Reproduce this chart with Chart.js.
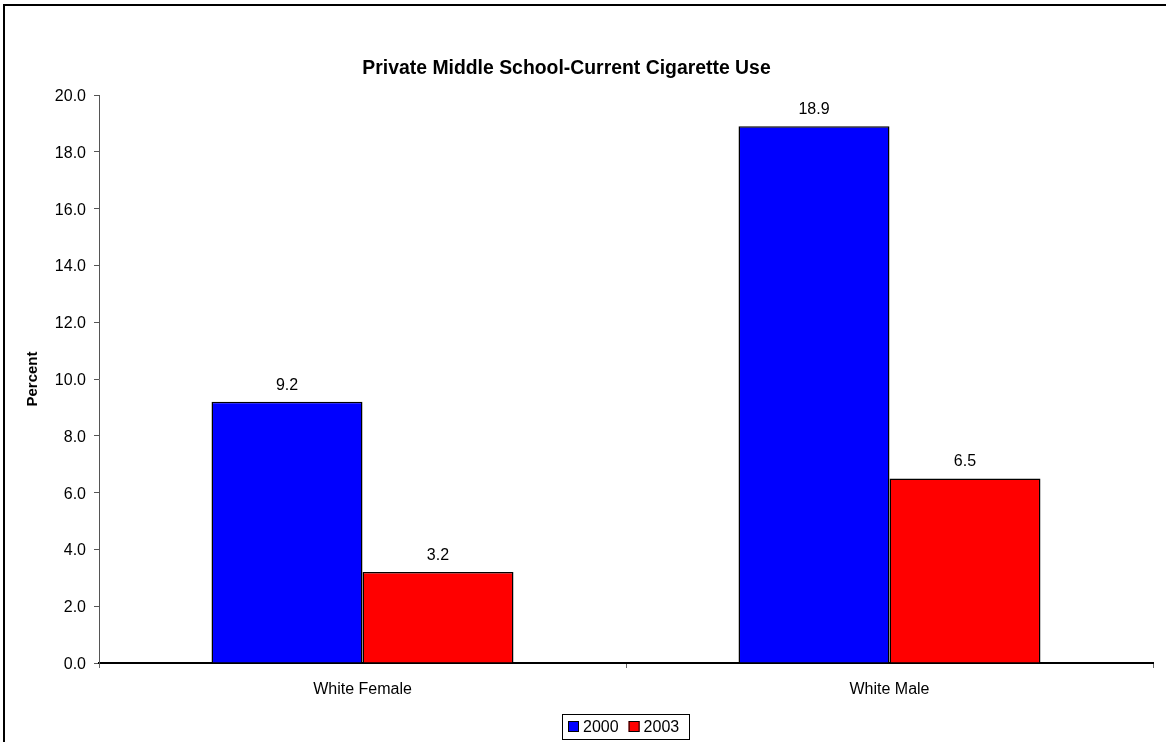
<!DOCTYPE html>
<html>
<head>
<meta charset="utf-8">
<script src="https://cdn.jsdelivr.net/npm/chart.js@4/dist/chart.umd.min.js"></script>
<style>
html,body{margin:0;padding:0;background:#fff;}
#wrap{width:1166px;height:742px;position:relative;}
canvas{display:block;}
</style>
</head>
<body>
<div id="wrap"><canvas id="c" width="1166" height="742"></canvas></div>
<script>
const chartTitle = 'Private Middle School-Current Cigarette Use';
const categories = ['White Female', 'White Male'];
const seriesLabels = ['2000', '2003'];
const values2000 = [9.2, 18.9];
const values2003 = [3.2, 6.5];
const seriesColors = ['#0000FF', '#FF0000'];
const yTitle = 'Percent';
const FONT = '"Liberation Sans", Arial, sans-serif';

const extras = {
  id: 'extras',
  beforeDraw(chart) {
    const ctx = chart.ctx;
    ctx.save();
    ctx.fillStyle = '#fff';
    ctx.fillRect(0, 0, chart.width, chart.height);
    ctx.restore();
  },
  afterDatasetsDraw(chart) {
    const ctx = chart.ctx;
    ctx.save();
    ctx.font = '16px ' + FONT;
    ctx.fillStyle = '#000';
    ctx.textAlign = 'center';
    ctx.textBaseline = 'middle';
    chart.data.datasets.forEach((ds, i) => {
      chart.getDatasetMeta(i).data.forEach((bar, j) => {
        ctx.fillText(ds.data[j].toFixed(1), bar.x, bar.y - 16.5);
      });
    });
    ctx.restore();
  },
  afterDraw(chart) {
    const ctx = chart.ctx;
    ctx.save();
    // title
    ctx.font = 'bold 19.4px ' + FONT;
    ctx.fillStyle = '#000';
    ctx.textAlign = 'center';
    ctx.textBaseline = 'middle';
    ctx.fillText(chartTitle, 566.5, 69);
    // outer frame
    ctx.strokeStyle = '#000';
    ctx.lineWidth = 2;
    ctx.strokeRect(4, 5, chart.width + 10, chart.height + 10);
    // legend
    const ca = chart.chartArea;
    ctx.font = '16px ' + FONT;
    const items = chart.data.datasets.map(d => ({label: d.label, color: d.backgroundColor, w: ctx.measureText(d.label).width}));
    let total = 6 + 10;
    items.forEach((it, i) => { total += 11 + 4 + it.w + (i < items.length - 1 ? 10 : 0); });
    const cx = (ca.left + ca.right) / 2;
    const lx = Math.round(cx - total / 2);
    const ly = 714;
    ctx.lineWidth = 1;
    ctx.strokeStyle = '#000';
    ctx.strokeRect(lx + 0.5, ly + 0.5, Math.round(total), 25);
    let x = lx + 6;
    items.forEach(it => {
      ctx.fillStyle = it.color;
      ctx.fillRect(x, ly + 7, 11, 11);
      ctx.strokeRect(x + 0.5, ly + 7.5, 10, 10);
      ctx.fillStyle = '#000';
      ctx.textAlign = 'left';
      ctx.textBaseline = 'middle';
      ctx.fillText(it.label, x + 15, ly + 13.5);
      x += 11 + 4 + it.w + 10;
    });
    ctx.restore();
  }
};

new Chart(document.getElementById('c'), {
  type: 'bar',
  data: {
    labels: categories,
    datasets: [
      {label: seriesLabels[0], data: values2000, backgroundColor: seriesColors[0], borderColor: '#000', borderWidth: 1.5},
      {label: seriesLabels[1], data: values2003, backgroundColor: seriesColors[1], borderColor: '#000', borderWidth: 1.5}
    ]
  },
  options: {
    responsive: false,
    animation: false,
    events: [],
    layout: {padding: {top: 95, left: 23, right: 13, bottom: 0}},
    datasets: {bar: {barPercentage: 1, categoryPercentage: 0.573}},
    plugins: {
      legend: {display: false},
      tooltip: {enabled: false},
      title: {display: false}
    },
    scales: {
      x: {
        afterFit: s => { s.height = 79; },
        grid: {drawOnChartArea: false, drawTicks: true, tickLength: 5, color: '#666', offset: true},
        border: {display: true, color: '#000', width: 2},
        ticks: {color: '#000', font: {family: FONT, size: 16}, padding: 12}
      },
      y: {
        min: 0, max: 20,
        afterFit: s => { s.width = 76; },
        grid: {drawOnChartArea: false, drawTicks: true, tickLength: 5, color: '#555'},
        border: {display: true, color: '#555', width: 1},
        ticks: {stepSize: 2, color: '#000', font: {family: FONT, size: 16}, padding: 8, labelOffset: 1.5, callback: v => Number(v).toFixed(1)},
        title: {display: true, text: yTitle, color: '#000', font: {family: FONT, size: 15, weight: 'bold'}, padding: {top: 1, bottom: 0}}
      }
    }
  },
  plugins: [extras]
});
</script>
</body>
</html>
